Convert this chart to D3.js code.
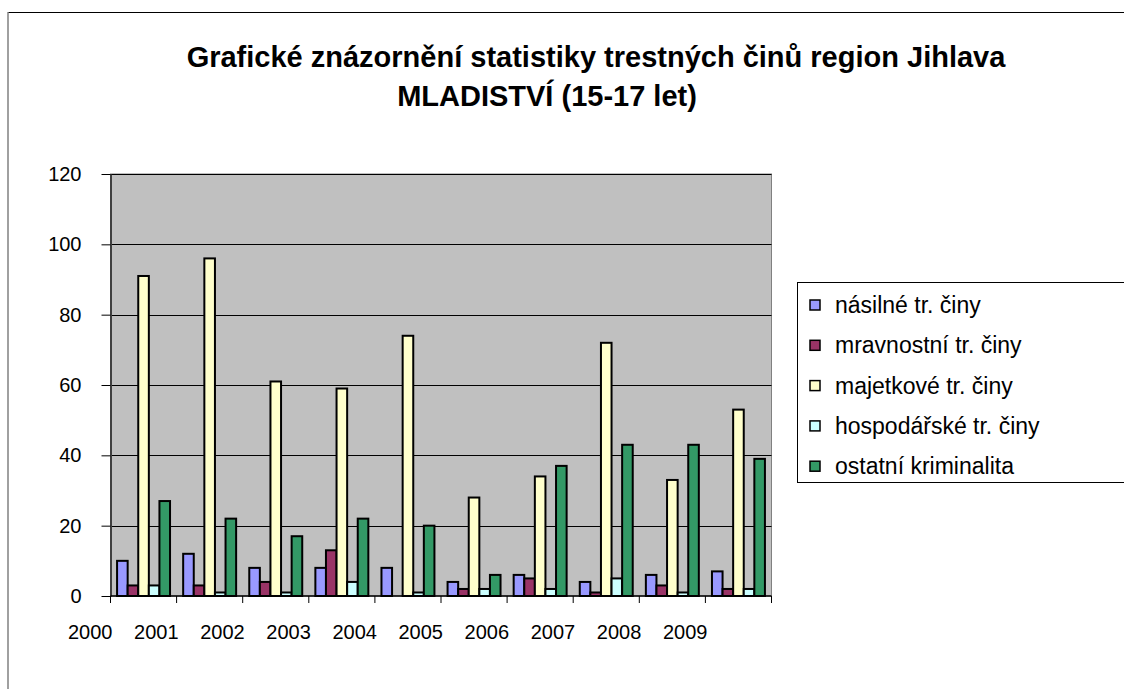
<!DOCTYPE html>
<html><head><meta charset="utf-8">
<script src="https://cdn.jsdelivr.net/npm/d3@7"></script>
<style>html,body{margin:0;padding:0;background:#fff;} svg{display:block;font-family:"Liberation Sans",Arial,sans-serif;}</style>
</head><body><svg id="c" width="1124" height="689"></svg>
<script>
const years = ["2000","2001","2002","2003","2004","2005","2006","2007","2008","2009"];
const seriesNames = ["násilné tr. činy","mravnostní tr. činy","majetkové tr. činy","hospodářské tr. činy","ostatní kriminalita"];
const nasilne      = [10,12,8,8,8,4,6,4,6,7];
const mravnostni   = [3,3,4,13,0,2,5,1,3,2];
const majetkove    = [91,96,61,59,74,28,34,72,33,53];
const hospodarske  = [3,1,1,4,1,2,2,5,1,2];
const ostatni      = [27,22,17,22,20,6,37,43,43,39];
const colors = ["#9999ff","#993366","#ffffcc","#ccffff","#339966"];
const yTicks = [0,20,40,60,80,100,120];
const titleLines = ["Grafické znázornění statistiky trestných činů region Jihlava","MLADISTVÍ (15-17 let)"];

const allSeries = [nasilne, mravnostni, majetkove, hospodarske, ostatni];
const svg = d3.select("#c");

// outer frame
svg.append("line").attr("x1",8).attr("x2",1124).attr("y1",12.5).attr("y2",12.5).attr("stroke","#000").attr("stroke-width",1);
svg.append("line").attr("x1",8).attr("x2",8).attr("y1",12).attr("y2",689).attr("stroke","#808080").attr("stroke-width",1.5);

const L=110.5, R=771.5, T=174, B=596;
const x0 = d3.scaleBand().domain(years).range([L,R]).padding(0);
const x1 = d3.scaleBand().domain(d3.range(5)).range([0,x0.bandwidth()]).paddingInner(0).paddingOuter(0.62);
const y = d3.scaleLinear().domain([0,120]).range([B,T]);

// plot area
svg.append("rect").attr("x",L).attr("y",T).attr("width",R-L).attr("height",B-T).attr("fill","#c0c0c0").attr("stroke","#808080").attr("stroke-width",1);
// gridlines
svg.append("g").selectAll("line").data(yTicks.filter(d=>d>0)).join("line")
  .attr("x1",L).attr("x2",R).attr("y1",d=>Math.round(y(d))+0.5).attr("y2",d=>Math.round(y(d))+0.5)
  .attr("stroke","#000").attr("stroke-width",1);

// bars
const rows = years.map((yr,i)=>({yr, vals: allSeries.map(s=>s[i])}));
const g = svg.append("g").selectAll("g").data(rows).join("g").attr("transform",d=>`translate(${x0(d.yr)},0)`);
g.selectAll("rect").data(d=>d.vals.map((v,k)=>({v,k}))).join("rect")
  .attr("x",d=>x1(d.k)).attr("width",x1.bandwidth())
  .attr("y",d=>y(d.v)).attr("height",d=>B-y(d.v))
  .attr("fill",d=>colors[d.k]).attr("stroke","#000").attr("stroke-width",d=>d.v>0?2:0);

// y axis
const yAxis = d3.axisLeft(y).tickValues(yTicks).tickSize(9).tickPadding(20).tickSizeOuter(0);
const ya = svg.append("g").attr("transform",`translate(${L},0)`).call(yAxis);
ya.select(".domain").attr("stroke","#404040").attr("stroke-width",2);
ya.selectAll(".tick line").attr("stroke","#000");
ya.selectAll("text").attr("font-size",20).attr("fill","#000").attr("font-family","Liberation Sans, Arial, sans-serif");

// x axis with ticks at band boundaries
const bounds = years.map(d=>x0(d)).concat([R]);
const xa = svg.append("g");
xa.append("line").attr("x1",L).attr("x2",R).attr("y1",B).attr("y2",B).attr("stroke","#000").attr("stroke-width",1.5);
xa.selectAll("line.tk").data(bounds).join("line").attr("class","tk")
  .attr("x1",d=>d).attr("x2",d=>d).attr("y1",B).attr("y2",B+7).attr("stroke","#000");
xa.selectAll("text").data(years).join("text")
  .attr("x",d=>x0(d)+2).attr("y",639).attr("text-anchor","end")
  .attr("font-size",20).attr("fill","#000").text(d=>d);

// title
svg.append("text").attr("x",596).attr("y",67).attr("text-anchor","middle").attr("font-weight","bold").attr("font-size",29).text(titleLines[0]);
svg.append("text").attr("x",547).attr("y",106).attr("text-anchor","middle").attr("font-weight","bold").attr("font-size",29).text(titleLines[1]);

// legend
const lg = svg.append("g");
lg.append("rect").attr("x",797.5).attr("y",282.5).attr("width",340).attr("height",200).attr("fill","#fff").attr("stroke","#000").attr("stroke-width",1);
const li = lg.selectAll("g").data(seriesNames).join("g").attr("transform",(d,i)=>`translate(0,${305+i*40.3})`);
li.append("rect").attr("x",810).attr("y",-5).attr("width",10).attr("height",10).attr("fill",(d,i)=>colors[i]).attr("stroke","#000").attr("stroke-width",1.5);
li.append("text").attr("x",835).attr("y",0).attr("dy","0.35em").attr("font-size",23).attr("fill","#000").text(d=>d);
</script></body></html>
